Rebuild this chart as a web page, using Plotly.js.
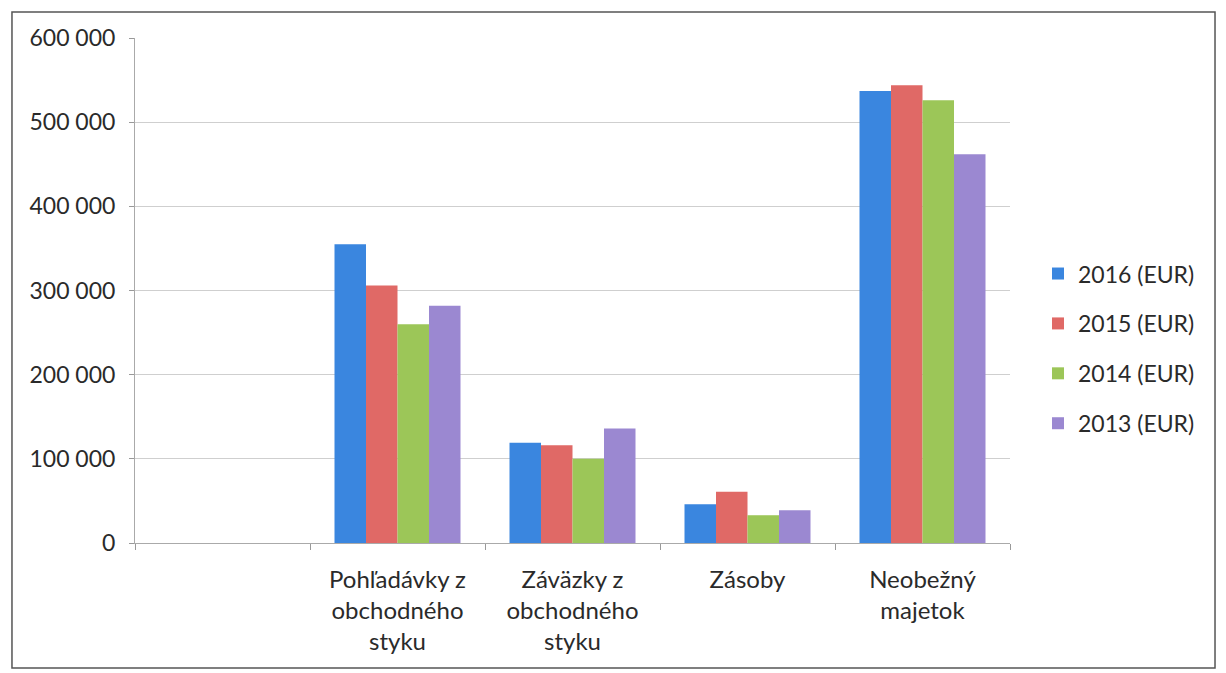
<!DOCTYPE html>
<html>
<head>
<meta charset="utf-8">
<script src="https://cdn.plot.ly/plotly-3.0.1.min.js"></script>
<style>html,body{margin:0;padding:0;background:#fff;}#chart{width:1226px;height:673px;}</style>
</head>
<body>
<div id="chart"></div>
<script>
const categories = [" ", "Pohľadávky z<br>obchodného<br>styku", "Záväzky z<br>obchodného<br>styku", "Zásoby", "Neobežný<br>majetok"];
const seriesNames = ["2016 (EUR)", "2015 (EUR)", "2014 (EUR)", "2013 (EUR)"];
const values2016 = [null, 355000, 119000, 46000, 537000];
const values2015 = [null, 306000, 116000, 61000, 544000];
const values2014 = [null, 260000, 100000, 33000, 526000];
const values2013 = [null, 282000, 136000, 39000, 462000];
const yTicks = [0, 100000, 200000, 300000, 400000, 500000, 600000];
const yTickLabels = ["0", "100 000", "200 000", "300 000", "400 000", "500 000", "600 000"];
const colors = ["#3a86df", "#e06966", "#9cc658", "#9b88d1"];

const allValues = [values2016, values2015, values2014, values2013];
const traces = allValues.map((v, i) => ({
  type: "bar",
  name: seriesNames[i],
  x: categories,
  y: v,
  legendgroup: "g" + i,
  marker: {color: colors[i], line: {width: 0}},
  hoverinfo: "y+name"
}));

const font = {family: "Lato, 'Open Sans', sans-serif", size: 23, color: "#2a2a2a"};
const layout = {
  width: 1226, height: 673,
  margin: {l: 135, r: 216, t: 38, b: 130},
  paper_bgcolor: "#ffffff", plot_bgcolor: "#ffffff",
  font: font,
  barmode: "group",
  bargap: 0.28,
  bargroupgap: 0,
  showlegend: true,
  legend: {
    x: 1.032, xanchor: "left", y: 0.385, yanchor: "middle",
    font: {family: font.family, size: 23, color: "#2a2a2a"},
    tracegroupgap: 17,
    traceorder: "grouped",
    itemwidth: 30,
    bgcolor: "rgba(0,0,0,0)"
  },
  xaxis: {
    type: "category",
    categoryorder: "array",
    categoryarray: categories,
    range: [-0.5, 4.5],
    tickson: "boundaries",
    ticks: "outside", ticklen: 6, tickcolor: "#999999",
    ticklabelstandoff: 15,
    showline: true, linecolor: "#aaaaaa", linewidth: 1,
    showgrid: false,
    tickfont: {family: font.family, size: 24, color: "#2a2a2a"},
    fixedrange: true
  },
  yaxis: {
    range: [0, 600000],
    tickvals: yTicks,
    ticktext: yTickLabels,
    ticks: "outside", ticklen: 5, tickcolor: "#999999",
    ticklabelstandoff: 9,
    showline: true, linecolor: "#aaaaaa", linewidth: 1,
    showgrid: true, gridcolor: "#cfcfcf", gridwidth: 1,
    zeroline: false,
    tickfont: {family: font.family, size: 23, color: "#2a2a2a"},
    fixedrange: true
  },
  shapes: [{
    type: "rect", xref: "paper", yref: "paper",
    x0: -0.1406, x1: 1.2343, y0: -0.2475, y1: 1.0515,
    line: {color: "#555555", width: 1.5}, fillcolor: "rgba(0,0,0,0)", layer: "below"
  }]
};

Plotly.newPlot("chart", traces, layout, {displayModeBar: false, staticPlot: true});
</script>
</body>
</html>
